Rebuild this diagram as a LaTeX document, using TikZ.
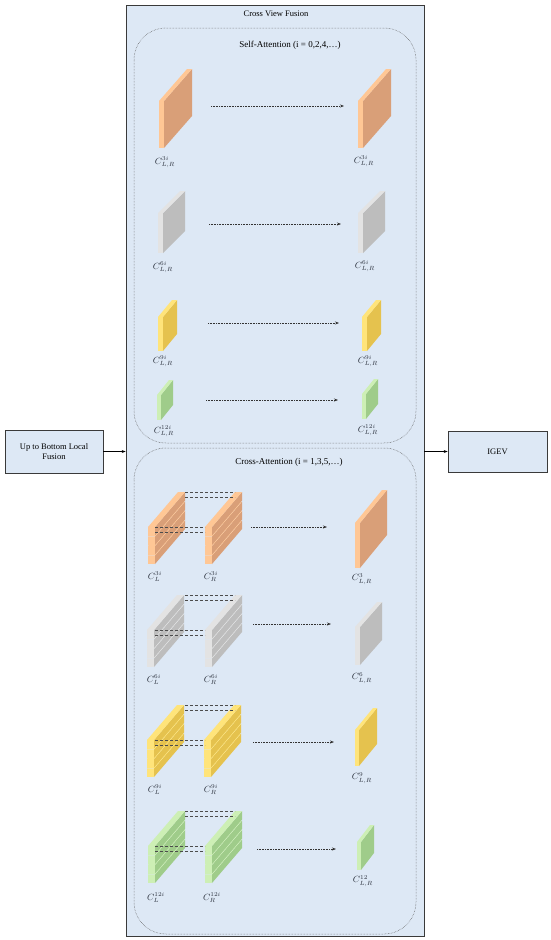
\documentclass[tikz,border=0pt]{standalone}
\usepackage{fontspec}
\setmainfont{Liberation Serif}
\usetikzlibrary{arrows.meta}
\definecolor{panelbg}{HTML}{DDE8F5}
\definecolor{edge}{HTML}{3A3A3A}
\definecolor{orF}{HTML}{FFC795}
\definecolor{orS}{HTML}{D99F78}
\definecolor{grF}{HTML}{E3E3E3}
\definecolor{grS}{HTML}{BDBDBD}
\definecolor{yeF}{HTML}{FFE47A}
\definecolor{yeS}{HTML}{E5C24E}
\definecolor{gnF}{HTML}{CDEFB5}
\definecolor{gnS}{HTML}{9FCC8A}
\definecolor{lab}{HTML}{2E3440}
% #1 x, #2 y (front bottom-left), #3 w, #4 h, #5 dx, #6 rise, #7 front colour, #8 side colour
\newcommand{\plane}[8]{%
  \fill[#7] (#1,#2) rectangle (#1+#3,#2-#4);
  \fill[#8] (#1+#3,#2) -- (#1+#3+#5,#2-#6) -- (#1+#3+#5,#2-#4-#6) -- (#1+#3,#2-#4) -- cycle;
  \fill[#7] (#1,#2-#4) -- (#1+#3,#2-#4) -- (#1+#3+#5,#2-#4-#6) -- (#1+#5,#2-#4-#6) -- cycle;
}
% stack of four slabs, front bottom-left at (#1,#2)
\newcommand{\slabstack}[4]{%
  \foreach \k in {0,...,3}{\plane{#1}{#2-\k*9.5}{7}{8.5}{30}{35}{#3}{#4}}%
}
% connecting dashed lines between two stacks, bottoms at y=#1
\newcommand{\stacklinks}[1]{%
  \draw[link] (155,#1-37) -- (205,#1-37);
  \draw[link] (155,#1-32) -- (205,#1-32);
  \draw[link] (185,#1-72) -- (235,#1-72);
  \draw[link] (185,#1-67) -- (235,#1-67);
}
% label with sub- and superscript kept apart
\newcommand{\clab}[3]{$#1^{#2}_{\vphantom{(}#3}$}
\tikzset{
  box/.style={draw=edge, line width=0.7pt, fill=panelbg, inner sep=0pt},
  groupbox/.style={draw=black!65, densely dotted, line width=0.5pt, rounded corners=32pt},
  flow/.style={-{Stealth[length=4pt,width=3pt]}, densely dotted, line width=0.6pt, draw=black!80},
  mainarrow/.style={-{Stealth[length=4pt,width=3pt]}, line width=0.6pt, draw=black},
  link/.style={densely dashed, line width=0.45pt, draw=black!70},
  lbl/.style={font=\fontsize{9}{10}\selectfont, text=lab, inner sep=0pt},
  ttl/.style={font=\fontsize{8.5}{10}\selectfont, inner sep=0pt},
  grouptitle/.style={font=\fontsize{9}{11}\selectfont, inner sep=0pt},
}
\begin{document}
\begin{tikzpicture}[x=1pt,y=-1pt]
\useasboundingbox (0,0) rectangle (550,940);
\fill[white] (0,0) rectangle (550,940);

% main panel
\node[box, minimum width=298pt, minimum height=931pt] (panel) at (275,470.5) {};
\node[ttl] (title) at (276,14) {Cross View Fusion};

% side boxes
\node[box, minimum width=98pt, minimum height=43pt, align=center, font=\fontsize{8.5}{10.5}\selectfont] (ubl) at (54,451.5) {Up to Bottom Local\\Fusion};
\node[box, minimum width=99pt, minimum height=41pt, font=\fontsize{8.5}{10}\selectfont] (igev) at (497.5,451.5) {IGEV};
\draw[mainarrow] (ubl.east) -- (ubl.east -| panel.west);
\draw[mainarrow] (igev.west -| panel.east) -- (igev.west);

% group boxes
\draw[groupbox] (134,28) rectangle (416,443);
\node[grouptitle] (satitle) at (290,45) {Self-Attention (i = 0,2,4,\dots)};
\draw[groupbox] (134,448) rectangle (416,934);
\node[grouptitle] (catitle) at (289,462) {Cross-Attention (i = 1,3,5,\dots)};

% ---------- self-attention ----------
\plane{159}{148}{5}{47}{28}{32}{orF}{orS}
\plane{358}{148}{5}{47}{28}{32}{orF}{orS}
\node[lbl] (s3l) at (165,162) {\clab{C}{3i}{L,R}};
\node[lbl] (s3r) at (364,161) {\clab{C}{3i}{L,R}};
\coordinate (a1s) at (211,106); \coordinate (a1e) at (344,106);
\draw[flow] (a1s) -- (a1e);

\plane{158}{253}{5}{40}{22}{22}{grF}{grS}
\plane{358}{253}{5}{40}{22}{22}{grF}{grS}
\node[lbl] (s6l) at (163,267) {\clab{C}{6i}{L,R}};
\node[lbl] (s6r) at (365,266) {\clab{C}{6i}{L,R}};
\coordinate (a2s) at (209,224); \coordinate (a2e) at (341,224);
\draw[flow] (a2s) -- (a2e);

\plane{158}{351}{5}{34}{14}{17}{yeF}{yeS}
\plane{362}{351}{5}{34}{14}{17}{yeF}{yeS}
\node[lbl] (s9l) at (163,361) {\clab{C}{9i}{L,R}};
\node[lbl] (s9r) at (368,361) {\clab{C}{9i}{L,R}};
\coordinate (a3s) at (208,323); \coordinate (a3e) at (339,323);
\draw[flow] (a3s) -- (a3e);

\plane{157}{420}{4}{25}{12}{15}{gnF}{gnS}
\plane{362}{419}{4}{25}{12}{15}{gnF}{gnS}
\node[lbl] (s12l) at (164,431) {\clab{C}{12i}{L,R}};
\node[lbl] (s12r) at (368,430) {\clab{C}{12i}{L,R}};
\coordinate (a4s) at (206,400); \coordinate (a4e) at (338,400);
\draw[flow] (a4s) -- (a4e);

% ---------- cross-attention ----------
% orange
\slabstack{148}{564}{orF}{orS}
\slabstack{205}{564}{orF}{orS}
\stacklinks{564}
\node[lbl] (c3l) at (155,577) {\clab{C}{3i}{L}};
\node[lbl] (c3r) at (211,577) {\clab{C}{3i}{R}};
\plane{355}{568}{5}{45}{27}{33}{orF}{orS}
\node[lbl] (c3o) at (362,579) {\clab{C}{3}{L,R}};
\coordinate (b1s) at (251,527); \coordinate (b1e) at (327,527);
\draw[flow] (b1s) -- (b1e);

% gray
\slabstack{147}{667}{grF}{grS}
\slabstack{205}{667}{grF}{grS}
\stacklinks{667}
\node[lbl] (c6l) at (154,680) {\clab{C}{6i}{L}};
\node[lbl] (c6r) at (211,680) {\clab{C}{6i}{R}};
\plane{355}{665}{5}{38}{22}{25}{grF}{grS}
\node[lbl] (c6o) at (362,678) {\clab{C}{6}{L,R}};
\coordinate (b2s) at (253,624); \coordinate (b2e) at (331,624);
\draw[flow] (b2s) -- (b2e);

% yellow
\slabstack{147}{777}{yeF}{yeS}
\slabstack{204}{777}{yeF}{yeS}
\stacklinks{777}
\node[lbl] (c9l) at (155,790) {\clab{C}{9i}{L}};
\node[lbl] (c9r) at (211,790) {\clab{C}{9i}{R}};
\plane{355}{766}{4}{36}{18}{22}{yeF}{yeS}
\node[lbl] (c9o) at (362,778) {\clab{C}{9}{L,R}};
\coordinate (b3s) at (253,742); \coordinate (b3e) at (334,742);
\draw[flow] (b3s) -- (b3e);

% green
\slabstack{148}{883}{gnF}{gnS}
\slabstack{205}{883}{gnF}{gnS}
\stacklinks{883}
\node[lbl] (c12l) at (156,898) {\clab{C}{12i}{L}};
\node[lbl] (c12r) at (212,898) {\clab{C}{12i}{R}};
\plane{357}{870}{4}{28}{13}{17}{gnF}{gnS}
\node[lbl] (c12o) at (363,881) {\clab{C}{12}{L,R}};
\coordinate (b4s) at (257,849); \coordinate (b4e) at (336,849);
\draw[flow] (b4s) -- (b4e);
\end{tikzpicture}
\end{document}
